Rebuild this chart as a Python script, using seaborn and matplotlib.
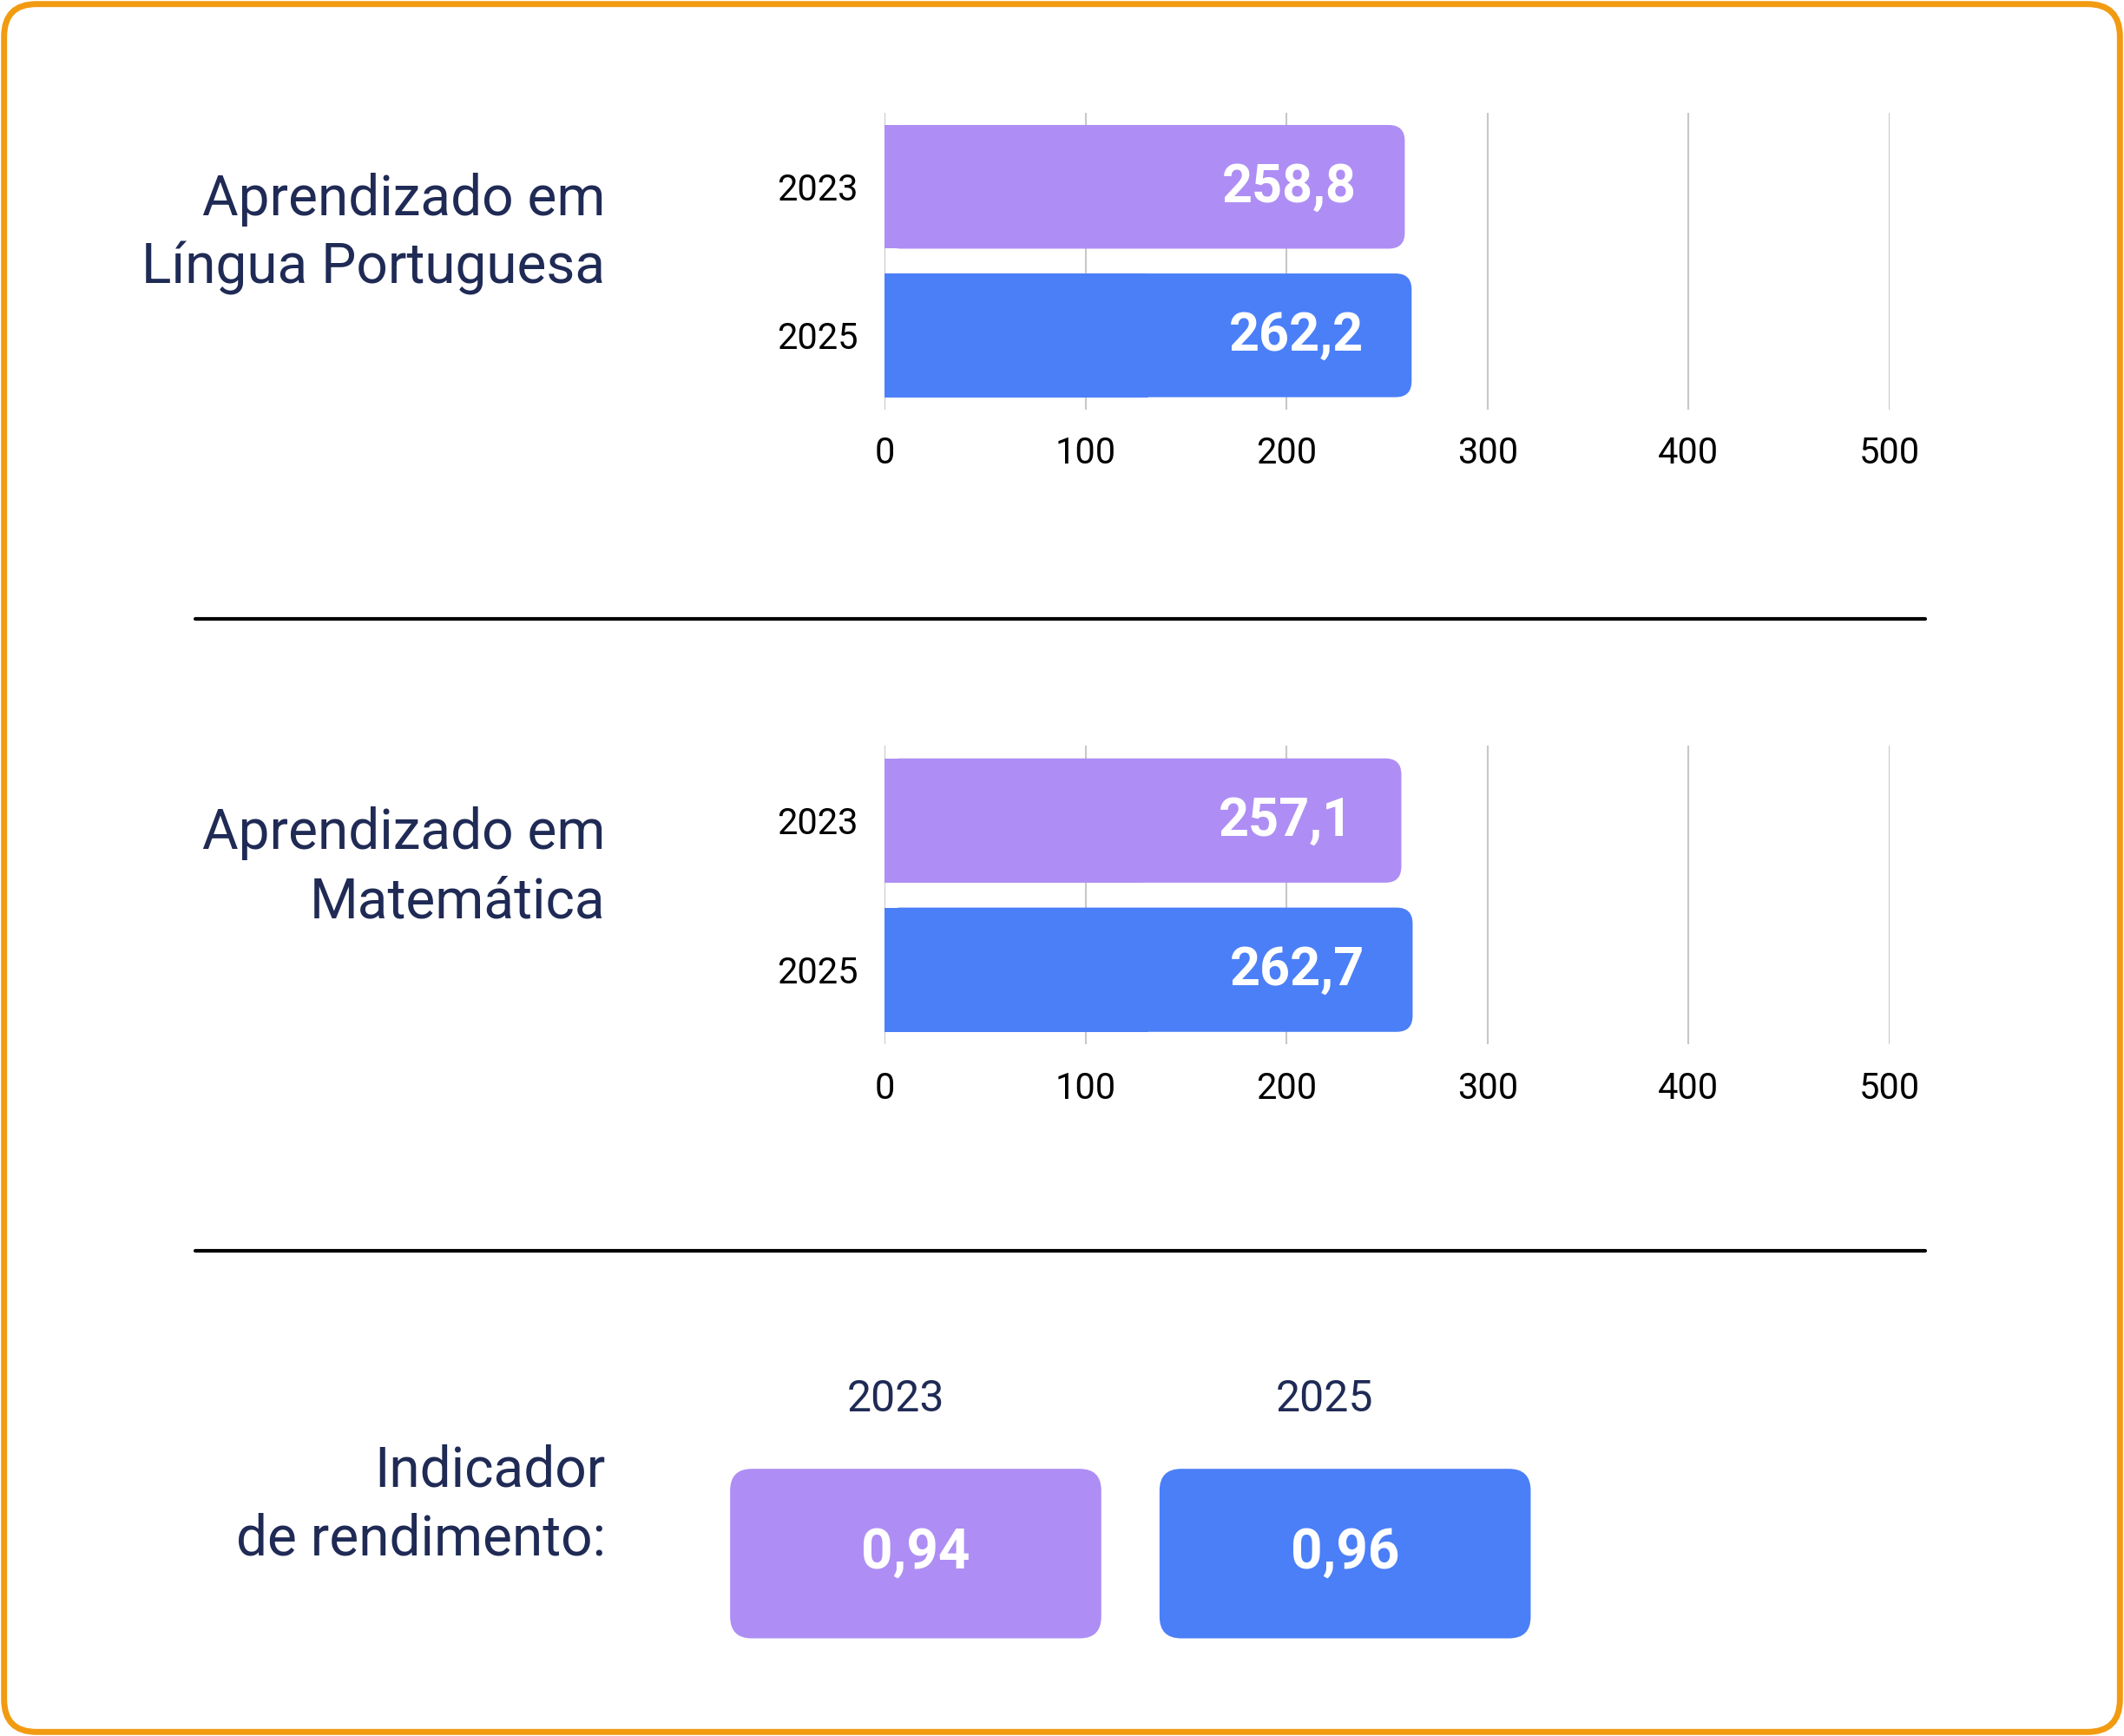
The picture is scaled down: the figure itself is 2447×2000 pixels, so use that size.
import matplotlib
matplotlib.use("Agg")
import matplotlib.pyplot as plt
import seaborn as sns
import pandas as pd
from matplotlib.patches import FancyBboxPatch, Rectangle

anos = ["2023", "2025"]
portugues = [258.8, 262.2]
matematica = [257.1, 262.7]
rendimento = [0.94, 0.96]
ticks = [0, 100, 200, 300, 400, 500]
titulos = ["Aprendizado em\nLíngua Portuguesa", "Aprendizado em\nMatemática"]

roxo = "#AE8EF4"
azul = "#4B7FF7"
navy = "#1F2A55"

sns.set_theme(style="white")
plt.rcParams["font.family"] = ["Roboto", "DejaVu Sans"]

fig = plt.figure(figsize=(24.47, 20), dpi=100)
W, H = 1568, 1280  # reference display coords


def fx(x):
    return x / W


def fy(y):
    return 1 - y / H


def round_bars(ax):
    patches = list(ax.patches)
    for p, c in zip(patches, [roxo, azul]):
        x, y, w, h = p.get_x(), p.get_y(), p.get_width(), p.get_height()
        p.remove()
        ax.add_patch(FancyBboxPatch((x, y), w, h, boxstyle="round,pad=0,rounding_size=8",
                                    mutation_aspect=0.0135, fc=c, ec="none", zorder=3))
        ax.add_patch(Rectangle((x, y), w / 2, h, fc=c, ec="none", zorder=3))


for vals, titulo, top, bottom in [(portugues, titulos[0], 83, 302), (matematica, titulos[1], 550, 770)]:
    ax = fig.add_axes([fx(653), fy(bottom), fx(1395) - fx(653), fy(top) - fy(bottom)])
    df = pd.DataFrame({"ano": anos, "valor": vals})
    sns.barplot(data=df, y="ano", x="valor", hue="ano", palette=[roxo, azul],
                width=0.833, legend=False, ax=ax)
    round_bars(ax)
    ax.set_xlim(0, 500)
    ax.set_ylim(1.5, -0.5)
    ax.set_xticks(ticks)
    ax.set_xticklabels([str(t) for t in ticks], fontsize=30, color="black")
    ax.set_yticks([0, 1])
    ax.set_yticklabels(anos, fontsize=30, color="black")
    ax.tick_params(length=0, pad=22)
    ax.set_xlabel("")
    ax.set_ylabel("")
    for s in ax.spines.values():
        s.set_visible(False)
    for t in ticks:
        ax.axvline(t, color="#C8C8C8", lw=1.5, zorder=1)
    for i, v in enumerate(vals):
        ax.text(v - 24, i, f"{v:.1f}".replace(".", ","), ha="right", va="center",
                color="white", fontsize=44, fontweight="bold", zorder=4)
    fig.text(fx(447), fy((top + bottom) / 2 - 20), titulo, ha="right", va="center",
             fontsize=46, color=navy, linespacing=1.35)

for y in [456, 922]:
    fig.add_artist(plt.Line2D([fx(144), fx(1421)], [fy(y), fy(y)], color="black", lw=3))

# indicador de rendimento
fig.text(fx(447), fy(1110), "Indicador\nde rendimento:", ha="right", va="center",
         fontsize=46, color=navy, linespacing=1.35)
axr = fig.add_axes([0, 0, 1, 1], facecolor="none")
axr.set_xlim(0, W)
axr.set_ylim(H, 0)
axr.axis("off")
for x0, ano, v, c in zip([539, 856], anos, rendimento, [roxo, azul]):
    axr.add_patch(FancyBboxPatch((x0, 1083), 274, 125, boxstyle="round,pad=0,rounding_size=16",
                                 fc=c, ec="none"))
    axr.text(x0 + 137, 1145, f"{v:.2f}".replace(".", ","), ha="center", va="center",
             color="white", fontsize=46, fontweight="bold")
    axr.text(x0 + 122, 1032, ano, ha="center", va="center", color=navy, fontsize=36)

# moldura
axr.add_patch(FancyBboxPatch((3, 3), W - 6, H - 6, boxstyle="round,pad=0,rounding_size=24",
                             fc="none", ec="#F29B11", lw=5))

fig.savefig("out.png", dpi=100)
